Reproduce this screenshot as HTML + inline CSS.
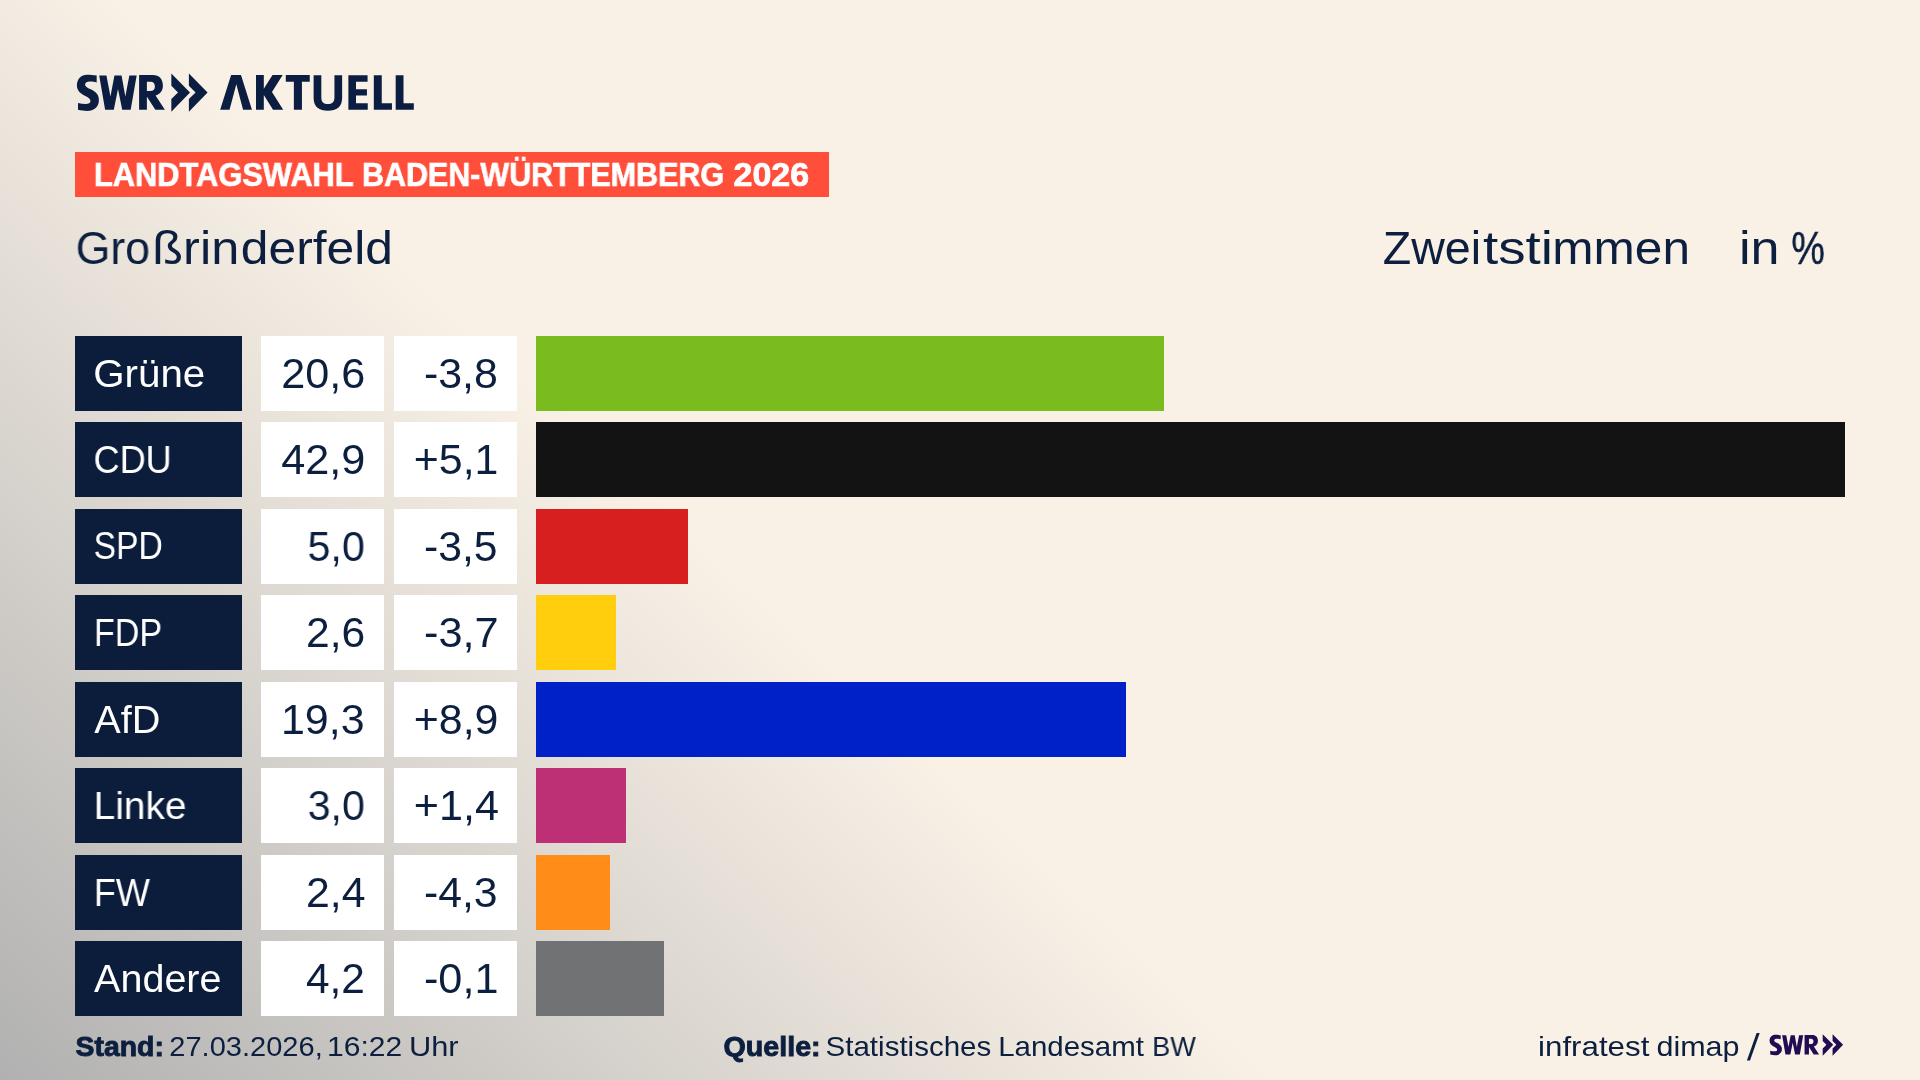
<!DOCTYPE html>
<html lang="de">
<head>
<meta charset="utf-8">
<title>Landtagswahl Baden-Württemberg 2026 – Großrinderfeld</title>
<style>
  html, body { margin: 0; padding: 0; }
  body {
    width: 1920px; height: 1080px; overflow: hidden; position: relative;
    font-family: "Liberation Sans", sans-serif;
    color: #0c1f3f;
    background: #f9f1e6;
  }
  #bg {
    position: absolute; left: 0; top: 0; width: 1920px; height: 1080px;
    background: linear-gradient(43deg, #b1b1b1 0%, #f9f1e6 41.5%, #f9f1e6 100%);
  }
  .abs { position: absolute; white-space: nowrap; line-height: 1; }
  .m { will-change: transform; }
  .t { display: inline-block; transform-origin: 0 50%; white-space: nowrap; }

  #banner { left: 75px; top: 152px; width: 754px; height: 45px; background: #ff4f3b; }
  .btx { top: 157.6px; font-size: 33.5px; font-weight: bold; color: #fff; -webkit-text-stroke: 0.7px #fff; }

  .hd { top: 224.7px; font-size: 46px; }
  #unit  { left: 1741px; top: 224.7px; font-size: 46px; }
  #unit2 { left: 1791px; top: 224.7px; font-size: 46px; -webkit-text-stroke: 0.5px #0c1f3f; }

  .row { position: absolute; left: 0; width: 1920px; height: 75px; }
  .lab { position: absolute; left: 75px; top: 0; width: 167px; height: 75px; background: #0b1d3b; }
  .v1  { position: absolute; left: 261px; top: 0; width: 123px; height: 75px; background: #fff; }
  .v2  { position: absolute; left: 394px; top: 0; width: 123px; height: 75px; background: #fff; }
  .bar { position: absolute; left: 536px; top: 0; height: 75px; }
  .lab span { position: absolute; left: 20px; top: 17.7px; font-size: 39px; color: #fff; line-height: 1; white-space: nowrap; transform-origin: 0 50%; }
  .v1 span, .v2 span { position: absolute; right: 20px; top: 16.45px; font-size: 42px; color: #0c1f3f; line-height: 1; white-space: nowrap; transform-origin: 0 50%; }

  .foot { top: 1033px; font-size: 28px; }
  .foot b { font-weight: bold; -webkit-text-stroke: 0.9px #0c1f3f; }
</style>
<style id="tune">
#bt1{transform:translateX(-2.07px) scaleX(0.9201)}
#bt2{transform:translateX(-2.01px) scaleX(0.9091)}
#bt3{transform:translateX(-0.48px) scaleX(1.0153)}
#pl{transform:translateX(-1.50px) scaleX(1.0702)}
#kd{transform:translateX(-0.44px) scaleX(1.0824)}
#un{transform:translateX(-2.04px) scaleX(1.1324)}
#grl{transform:translateX(-1.76px) scaleX(1.0331)}
#cdl{transform:translateX(-1.48px) scaleX(0.9258)}
#spl{transform:translateX(-1.37px) scaleX(0.8622)}
#fdl{transform:translateX(-1.03px) scaleX(0.8744)}
#afl{transform:translateX(-0.75px) scaleX(1.0173)}
#lil{transform:translateX(-1.39px) scaleX(0.9971)}
#fwl{transform:translateX(-1.17px) scaleX(0.9261)}
#anl{transform:translateX(-0.91px) scaleX(1.0131)}
#gra{transform:translateX(-0.70px) scaleX(1.0286)}
#cda{transform:translateX(-0.73px) scaleX(1.0291)}
#spa{transform:translateX(1.55px) scaleX(0.9825)}
#fda{transform:translateX(0.12px) scaleX(1.0135)}
#afa{transform:translateX(-1.04px) scaleX(1.0221)}
#lia{transform:translateX(1.68px) scaleX(0.9803)}
#fwa{transform:translateX(0.03px) scaleX(1.0193)}
#ana{transform:translateX(-0.09px) scaleX(1.0106)}
#grb{transform:translateX(-1.10px) scaleX(1.0227)}
#cdb{transform:translateX(-0.22px) scaleX(1.0208)}
#spb{transform:translateX(-1.09px) scaleX(1.0169)}
#fdb{transform:translateX(-1.02px) scaleX(1.0309)}
#afb{transform:translateX(-0.23px) scaleX(1.0208)}
#lib{transform:translateX(-0.19px) scaleX(1.0260)}
#fwb{transform:translateX(-1.10px) scaleX(1.0178)}
#anb{transform:translateX(-1.01px) scaleX(1.0283)}
#f1{transform:translateX(-0.38px) scaleX(1.0129)}
#f2a{transform:translateX(-0.68px) scaleX(1.0372)}
#f2b{transform:translateX(-1.90px) scaleX(1.0724)}
#f2c{transform:translateX(-2.04px) scaleX(1.1003)}
#f3{transform:translateX(-0.40px) scaleX(1.0225)}
#f4a{transform:translateX(-1.44px) scaleX(1.0543)}
#f4b{transform:translateX(-1.86px) scaleX(1.0520)}
#f4c{transform:translateX(-1.80px) scaleX(0.9653)}
#f5a{transform:translateX(-0.93px) scaleX(1.1172)}
#f5b{transform:translateX(-0.58px) scaleX(1.0890)}
#pc{transform:translateX(0.41px) scaleX(0.8164)}
#pl1{transform:translateX(-1.30px) scaleX(0.9699)}
#pl2{transform:translateX(-2.71px) scaleX(1.0970)}
#pl3{transform:translateX(-1.13px) scaleX(1.0807)}
#kd1{transform:translateX(-0.31px) scaleX(1.0127)}
#kd2{transform:translateX(-0.03px) scaleX(1.1881)}
#kd3{transform:translateX(-2.76px) scaleX(1.0775)}
</style>
</head>
<body>
<div id="bg"></div>

<!-- LOGO -->
<svg class="abs" id="logo" style="left:0;top:0" width="460" height="130" viewBox="0 0 460 130">
  <g fill="#0b1e42">
    <g transform="translate(72,68) scale(0.044444)">
      <path d="M555,170 C480,152 410,150 340,150 C200,150 110,250 110,390 C110,520 200,580 290,625 C370,665 415,695 415,745 C415,795 370,810 310,810 C250,810 190,800 135,785 L135,940 C200,958 270,965 340,965 C500,965 605,870 605,720 C605,590 520,530 420,480 C340,440 295,415 295,375 C295,325 340,305 400,305 C460,305 510,312 555,325 Z"/>
      <path d="M612,170 L775,170 L865,640 L955,170 L1115,170 L1200,640 L1290,170 L1455,170 L1320,940 L1130,940 L1035,470 L940,940 L745,940 Z"/>
    </g>
    <g transform="translate(136,68) scale(0.044444)">
      <path fill-rule="evenodd" d="M70,160 L380,160 C520,160 605,250 605,400 C605,510 540,590 440,620 L650,940 L435,940 L250,650 L245,650 L245,940 L70,940 Z M245,310 L330,310 C390,310 425,350 425,415 C425,480 385,520 320,520 L245,520 Z"/>
      <path d="M795,125 L1215,550 L795,985 L795,700 L945,550 L795,400 Z"/>
      <path d="M1190,125 L1610,550 L1190,985 L1190,700 L1340,550 L1190,400 Z"/>
    </g>
    <g transform="translate(216,68) scale(0.0520833)">
      <path d="M80,800 L290,135 L480,135 L690,800 L520,800 L390,310 L260,800 Z"/>
      <path d="M768,135 L918,135 L918,400 L1085,135 L1280,135 L1075,460 L1290,800 L1095,800 L918,520 L918,800 L768,800 Z"/>
      <path d="M1340,135 L1800,135 L1800,265 L1650,265 L1650,800 L1495,800 L1495,265 L1340,265 Z"/>
    </g>
    <g transform="translate(306,68) scale(0.0625)">
      <path d="M122,115 L245,115 L245,470 C245,545 285,575 350,575 C415,575 455,545 455,470 L455,115 L578,115 L578,480 C578,620 490,685 350,685 C210,685 122,620 122,480 Z"/>
      <path d="M678,115 L985,115 L985,218 L800,218 L800,340 L975,340 L975,440 L800,440 L800,565 L988,565 L988,668 L678,668 Z"/>
      <path d="M1085,115 L1212,115 L1212,565 L1375,565 L1375,668 L1085,668 Z"/>
      <path d="M1435,115 L1560,115 L1560,565 L1725,565 L1725,668 L1435,668 Z"/>
    </g>
  </g>
</svg>

<!-- BANNER -->
<div class="abs" id="banner"></div>
<div class="abs btx" style="left:96px"><span class="t m" id="bt1">LANDTAGSWAHL</span></div>
<div class="abs btx" style="left:364px"><span class="t m" id="bt2">BADEN-WÜRTTEMBERG</span></div>
<div class="abs btx" style="left:734px"><span class="t m" id="bt3">2026</span></div>

<!-- HEADINGS -->
<div class="abs hd" style="left:77px"><span class="t m" id="pl1">Gro</span></div>
<div class="abs hd" style="left:155px"><span class="t m" id="pl2">ßrin</span></div>
<div class="abs hd" style="left:242px"><span class="t m" id="pl3">derfeld</span></div>
<div class="abs hd" style="left:1383px"><span class="t m" id="kd1">Zwei</span></div>
<div class="abs hd" style="left:1483px"><span class="t m" id="kd2">tsti</span></div>
<div class="abs hd" style="left:1555px"><span class="t m" id="kd3">mmen</span></div>
<div class="abs" id="unit"><span class="t m" id="un">in</span></div>
<div class="abs" id="unit2"><span class="t m" id="pc">%</span></div>

<!-- ROWS -->
<div class="row" style="top:336px"><div class="lab"><span class="m" id="grl" style="top:18px">Grüne</span></div><div class="v1"><span class="m" id="gra" style="top:17px">20,6</span></div><div class="v2"><span class="m" id="grb" style="top:17px">-3,8</span></div><div class="bar" style="width:628px;background:#7abc1e"></div></div>
<div class="row" style="top:422.4px"><div class="lab"><span class="m" id="cdl" style="top:17.6px">CDU</span></div><div class="v1"><span class="m" id="cda" style="top:16.6px">42,9</span></div><div class="v2"><span class="m" id="cdb" style="top:16.6px">+5,1</span></div><div class="bar" style="width:1309px;background:#131313"></div></div>
<div class="row" style="top:508.9px"><div class="lab"><span class="m" id="spl" style="top:17.1px">SPD</span></div><div class="v1"><span class="m" id="spa" style="top:17.1px">5,0</span></div><div class="v2"><span class="m" id="spb" style="top:17.1px">-3,5</span></div><div class="bar" style="width:152px;background:#d71f1f"></div></div>
<div class="row" style="top:595.3px"><div class="lab"><span class="m" id="fdl" style="top:17.7px">FDP</span></div><div class="v1"><span class="m" id="fda" style="top:16.7px">2,6</span></div><div class="v2"><span class="m" id="fdb" style="top:16.7px">-3,7</span></div><div class="bar" style="width:80px;background:#ffcf0d"></div></div>
<div class="row" style="top:681.7px"><div class="lab"><span class="m" id="afl" style="top:18.3px">AfD</span></div><div class="v1"><span class="m" id="afa" style="top:17.3px">19,3</span></div><div class="v2"><span class="m" id="afb" style="top:17.3px">+8,9</span></div><div class="bar" style="width:590px;background:#0020c8"></div></div>
<div class="row" style="top:768.1px"><div class="lab"><span class="m" id="lil" style="top:17.9px">Linke</span></div><div class="v1"><span class="m" id="lia" style="top:16.9px">3,0</span></div><div class="v2"><span class="m" id="lib" style="top:16.9px">+1,4</span></div><div class="bar" style="width:90px;background:#be3075"></div></div>
<div class="row" style="top:854.6px"><div class="lab"><span class="m" id="fwl" style="top:18.4px">FW</span></div><div class="v1"><span class="m" id="fwa" style="top:17.4px">2,4</span></div><div class="v2"><span class="m" id="fwb" style="top:17.4px">-4,3</span></div><div class="bar" style="width:74px;background:#ff8d17"></div></div>
<div class="row" style="top:941px"><div class="lab"><span class="m" id="anl" style="top:18px">Andere</span></div><div class="v1"><span class="m" id="ana" style="top:17px">4,2</span></div><div class="v2"><span class="m" id="anb" style="top:17px">-0,1</span></div><div class="bar" style="width:128px;background:#717274"></div></div>

<!-- FOOTER -->
<div class="abs foot" style="left:76px"><span class="t m" id="f1"><b>Stand:</b></span></div>
<div class="abs foot" style="left:170px"><span class="t m" id="f2a">27.03.2026,</span></div>
<div class="abs foot" style="left:329px"><span class="t m" id="f2b">16:22</span></div>
<div class="abs foot" style="left:411px"><span class="t m" id="f2c">Uhr</span></div>
<div class="abs foot" style="left:724px"><span class="t m" id="f3"><b>Quelle:</b></span></div>
<div class="abs foot" style="left:827px"><span class="t m" id="f4a">Statistisches</span></div>
<div class="abs foot" style="left:1000px"><span class="t m" id="f4b">Landesamt</span></div>
<div class="abs foot" style="left:1154px"><span class="t m" id="f4c">BW</span></div>
<div class="abs foot" style="left:1539px"><span class="t m" id="f5a">infratest</span></div>
<div class="abs foot" style="left:1657px"><span class="t m" id="f5b">dimap</span></div>

<svg class="abs" id="logo2" style="left:0;top:0" width="1920" height="1080" viewBox="0 0 1920 1080">
  <polygon fill="#0c1f3f" points="1746.9,1060.6 1750.0,1060.6 1759.7,1033.1 1756.6,1033.1"/>
  <g fill="#200c52" transform="translate(1769.7,1034.2) scale(0.5625) translate(-77.1,-73.6)">
    <g transform="translate(72,68) scale(0.044444)">
      <path d="M555,170 C480,152 410,150 340,150 C200,150 110,250 110,390 C110,520 200,580 290,625 C370,665 415,695 415,745 C415,795 370,810 310,810 C250,810 190,800 135,785 L135,940 C200,958 270,965 340,965 C500,965 605,870 605,720 C605,590 520,530 420,480 C340,440 295,415 295,375 C295,325 340,305 400,305 C460,305 510,312 555,325 Z"/>
      <path d="M612,170 L775,170 L865,640 L955,170 L1115,170 L1200,640 L1290,170 L1455,170 L1320,940 L1130,940 L1035,470 L940,940 L745,940 Z"/>
    </g>
    <g transform="translate(136,68) scale(0.044444)">
      <path fill-rule="evenodd" d="M70,160 L380,160 C520,160 605,250 605,400 C605,510 540,590 440,620 L650,940 L435,940 L250,650 L245,650 L245,940 L70,940 Z M245,310 L330,310 C390,310 425,350 425,415 C425,480 385,520 320,520 L245,520 Z"/>
      <path d="M795,125 L1215,550 L795,985 L795,700 L945,550 L795,400 Z"/>
      <path d="M1190,125 L1610,550 L1190,985 L1190,700 L1340,550 L1190,400 Z"/>
    </g>
  </g>
</svg>
</body>
</html>
